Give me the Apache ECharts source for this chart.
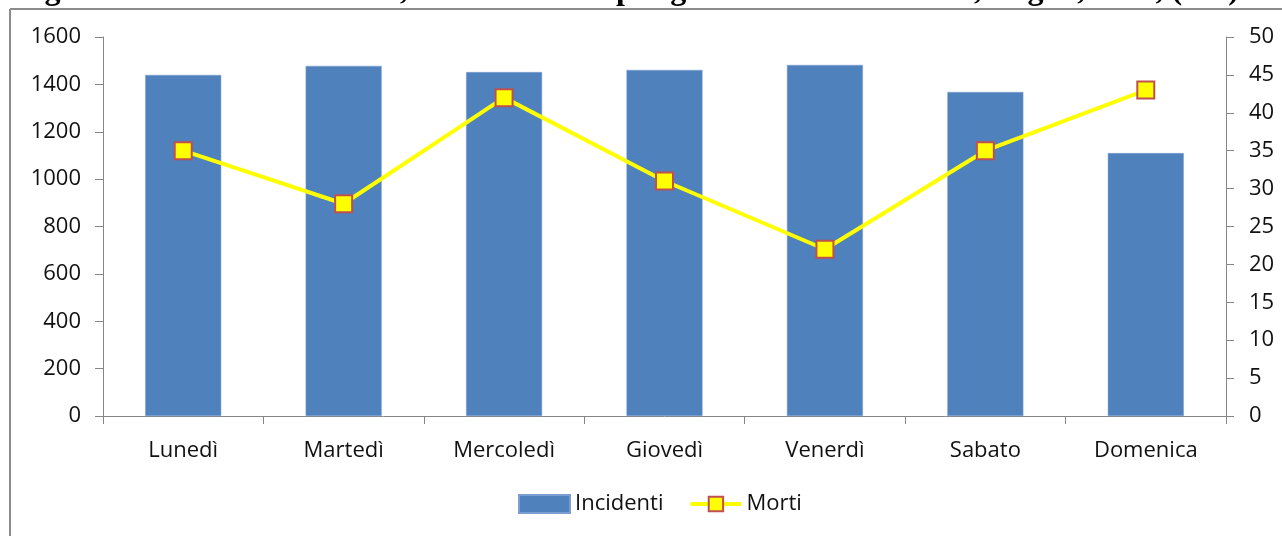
<!DOCTYPE html>
<html>
<head>
<meta charset="utf-8">
<script src="https://cdn.jsdelivr.net/npm/echarts@6/dist/echarts.min.js"></script>
<style>
html,body{margin:0;padding:0;background:#fff;}
#c{width:1282px;height:536px;}
</style>
</head>
<body>
<div id="c"></div>
<script>
const categories = ['Lunedì','Martedì','Mercoledì','Giovedì','Venerdì','Sabato','Domenica'];
const incidenti = [1440, 1478, 1452, 1461, 1482, 1368, 1110];
const morti = [35, 28, 42, 31, 22, 35, 43];
const leftTicks = [0, 1600, 200];
const rightTicks = [0, 50, 5];
const titleText = 'Figura 6 – Incidenti stradali, decessi e feriti per giorno della settimana, Puglia, 2011, (v.a.)';

const chart = echarts.init(document.getElementById('c'));
const axisColor = '#868686';
const labelFont = {color:'#111', fontSize:22, fontFamily:'Open Sans, sans-serif'};
chart.setOption({
  animation:false,
  backgroundColor:'#fff',
  graphic:[
    {type:'text', left:16, top:-25, style:{text:titleText, font:'bold 32px "Liberation Serif", serif', fill:'#000'}},
    {type:'line', shape:{x1:10,y1:9,x2:1282,y2:9}, style:{stroke:'#8c8c8c', lineWidth:2}, z:10},
    {type:'line', shape:{x1:10,y1:9,x2:10,y2:536}, style:{stroke:'#8c8c8c', lineWidth:2}, z:10}
  ],
  legend:{
    top:488, left:513, itemGap:25, itemWidth:51, itemHeight:18,
    textStyle:{color:'#111', fontSize:22, fontFamily:'Open Sans, sans-serif'},
    lineStyle:{width:4},
    data:[
      {name:'Incidenti', icon:'rect'},
      {name:'Morti'}
    ]
  },
  grid:{left:103, right:56, top:37, bottom:120, containLabel:false},
  xAxis:{
    type:'category', data:categories,
    axisLine:{lineStyle:{color:axisColor, width:1}},
    axisTick:{show:true, length:8, lineStyle:{color:axisColor}},
    axisLabel:{...labelFont, margin:24}
  },
  yAxis:[
    {type:'value', min:leftTicks[0], max:leftTicks[1], interval:leftTicks[2],
     axisLine:{show:true, lineStyle:{color:axisColor}},
     axisTick:{show:true, length:8, lineStyle:{color:axisColor}},
     splitLine:{show:false},
     axisLabel:{...labelFont, margin:22, formatter:v=>String(v)}},
    {type:'value', min:rightTicks[0], max:rightTicks[1], interval:rightTicks[2], position:'right',
     axisLine:{show:true, lineStyle:{color:axisColor}},
     axisTick:{show:true, length:8, lineStyle:{color:axisColor}},
     splitLine:{show:false},
     axisLabel:{...labelFont, margin:23, formatter:v=>String(v)}}
  ],
  series:[
    {name:'Incidenti', type:'bar', data:incidenti, barWidth:76,
     itemStyle:{color:'#4F81BD', borderColor:'#7b9fd0', borderWidth:0.5}},
    {name:'Morti', type:'line', yAxisIndex:1, data:morti,
     symbol:'rect', symbolSize:17,
     lineStyle:{color:'#FFFF00', width:4},
     itemStyle:{color:'#FFFF00', borderColor:'#C0504D', borderWidth:2}}
  ]
});
</script>
</body>
</html>
